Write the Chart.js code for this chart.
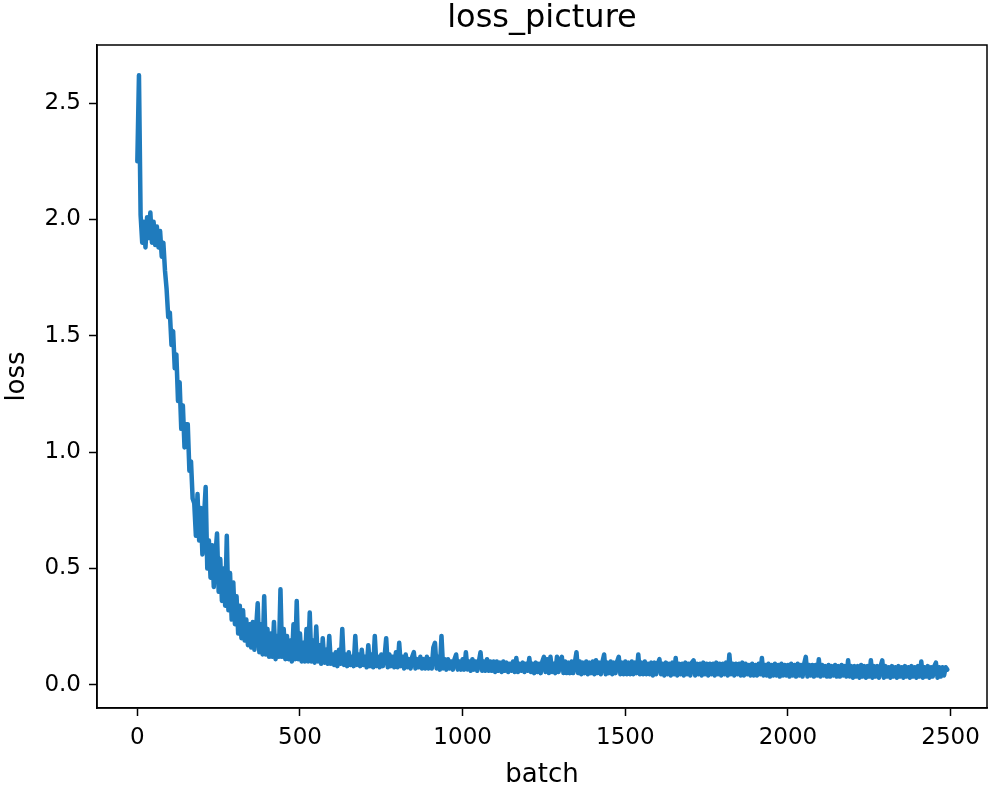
<!DOCTYPE html>
<html>
<head>
<meta charset="utf-8">
<title>loss_picture</title>
<script src="https://cdn.jsdelivr.net/npm/chart.js@4.4.1/dist/chart.umd.min.js"></script>
<style>
  html, body { margin: 0; padding: 0; background: #fff; }
  #wrap { width: 993px; height: 795px; }
</style>
</head>
<body>
<div id="wrap"><canvas id="lossChart" width="993" height="795"></canvas></div>
<script>
// loss per batch, every 5 batches (batch 0 .. 2490)
var batchStep = 5;
var loss = [
  // 0 - 595
  2.25, 2.62, 2.02, 1.90, 1.99, 1.88, 2.01, 1.92, 2.03, 1.90,
  1.99, 1.89, 1.97, 1.88, 1.95, 1.84, 1.90, 1.78, 1.70, 1.58,
  1.60, 1.46, 1.52, 1.36, 1.42, 1.22, 1.30, 1.10, 1.20, 1.02,
  1.12, 1.12, 0.92, 0.96, 0.80, 0.78, 0.64, 0.82, 0.62, 0.76,
  0.56, 0.72, 0.85, 0.50, 0.62, 0.46, 0.60, 0.42, 0.56, 0.65,
  0.40, 0.54, 0.36, 0.50, 0.34, 0.64, 0.32, 0.48, 0.28, 0.44,
  0.26, 0.38, 0.22, 0.34, 0.20, 0.32, 0.19, 0.28, 0.17, 0.26,
  0.16, 0.27, 0.15, 0.24, 0.35, 0.14, 0.26, 0.13, 0.38, 0.13,
  0.24, 0.12, 0.22, 0.12, 0.27, 0.11, 0.21, 0.12, 0.41, 0.12,
  0.24, 0.11, 0.21, 0.11, 0.19, 0.10, 0.26, 0.11, 0.36, 0.11,
  0.22, 0.10, 0.18, 0.10, 0.24, 0.10, 0.31, 0.10, 0.19, 0.095,
  0.25, 0.10, 0.17, 0.09, 0.20, 0.095, 0.15, 0.09, 0.21, 0.09,
  // 600 - 695
  0.13, 0.085, 0.14, 0.08, 0.15, 0.09, 0.24, 0.085, 0.13, 0.08,
  0.14, 0.085, 0.12, 0.08, 0.21, 0.085, 0.13, 0.08, 0.15, 0.085,
  // 700 - 795
  0.12, 0.075, 0.17, 0.08, 0.13, 0.075, 0.21, 0.08, 0.12, 0.075,
  0.13, 0.08, 0.12, 0.20, 0.075, 0.13, 0.08, 0.12, 0.075, 0.14,
  // 800 - 895
  0.075, 0.18, 0.08, 0.12, 0.07, 0.13, 0.075, 0.11, 0.07, 0.12,
  0.14, 0.07, 0.11, 0.075, 0.12, 0.07, 0.11, 0.07, 0.12, 0.07,
  // 900 - 995
  0.11, 0.07, 0.16, 0.18, 0.07, 0.12, 0.065, 0.21, 0.07, 0.11,
  0.065, 0.11, 0.07, 0.10, 0.065, 0.11, 0.13, 0.065, 0.10, 0.065,
  // 1000 - 1095
  0.11, 0.065, 0.14, 0.065, 0.10, 0.06, 0.11, 0.065, 0.10, 0.06,
  0.10, 0.14, 0.06, 0.10, 0.06, 0.11, 0.06, 0.10, 0.06, 0.10,
  // 1100 - 1195
  0.055, 0.10, 0.06, 0.095, 0.055, 0.10, 0.06, 0.095, 0.055, 0.09,
  0.06, 0.10, 0.055, 0.115, 0.055, 0.09, 0.06, 0.095, 0.055, 0.09,
  // 1200 - 1295
  0.06, 0.115, 0.055, 0.09, 0.05, 0.095, 0.055, 0.09, 0.05, 0.10,
  0.12, 0.055, 0.11, 0.05, 0.12, 0.055, 0.09, 0.05, 0.12, 0.055,
  // 1300 - 1395
  0.10, 0.12, 0.05, 0.10, 0.05, 0.095, 0.05, 0.10, 0.05, 0.095,
  0.14, 0.05, 0.10, 0.045, 0.095, 0.05, 0.10, 0.045, 0.095, 0.05,
  // 1400 - 1495
  0.10, 0.045, 0.105, 0.05, 0.095, 0.045, 0.10, 0.13, 0.045, 0.095,
  0.05, 0.10, 0.045, 0.095, 0.05, 0.10, 0.12, 0.045, 0.095, 0.045,
  // 1500 - 1595
  0.10, 0.045, 0.095, 0.045, 0.10, 0.045, 0.095, 0.05, 0.13, 0.045,
  0.095, 0.045, 0.10, 0.045, 0.09, 0.045, 0.095, 0.04, 0.095, 0.045,
  // 1600 - 1695
  0.09, 0.11, 0.045, 0.09, 0.04, 0.095, 0.045, 0.09, 0.04, 0.095,
  0.045, 0.115, 0.04, 0.09, 0.045, 0.09, 0.04, 0.095, 0.045, 0.09,
  // 1700 - 1795
  0.04, 0.095, 0.105, 0.04, 0.09, 0.045, 0.09, 0.04, 0.095, 0.045,
  0.09, 0.04, 0.09, 0.045, 0.09, 0.04, 0.095, 0.045, 0.09, 0.04,
  // 1800 - 1895
  0.09, 0.045, 0.095, 0.04, 0.13, 0.045, 0.09, 0.04, 0.09, 0.045,
  0.09, 0.04, 0.095, 0.04, 0.09, 0.045, 0.085, 0.04, 0.09, 0.04,
  // 1900 - 1995
  0.085, 0.04, 0.09, 0.045, 0.115, 0.04, 0.085, 0.04, 0.09, 0.035,
  0.085, 0.04, 0.09, 0.04, 0.085, 0.035, 0.09, 0.04, 0.085, 0.04,
  // 2000 - 2095
  0.085, 0.035, 0.09, 0.04, 0.085, 0.035, 0.09, 0.04, 0.085, 0.035,
  0.09, 0.12, 0.035, 0.085, 0.04, 0.085, 0.035, 0.085, 0.04, 0.11,
  // 2100 - 2195
  0.035, 0.085, 0.04, 0.08, 0.035, 0.085, 0.035, 0.08, 0.04, 0.085,
  0.035, 0.08, 0.035, 0.085, 0.04, 0.08, 0.035, 0.105, 0.035, 0.08,
  // 2200 - 2295
  0.03, 0.08, 0.035, 0.08, 0.03, 0.085, 0.035, 0.08, 0.03, 0.08,
  0.035, 0.105, 0.03, 0.08, 0.035, 0.08, 0.03, 0.08, 0.105, 0.03,
  // 2300 - 2395
  0.08, 0.035, 0.075, 0.03, 0.08, 0.035, 0.075, 0.03, 0.08, 0.035,
  0.075, 0.03, 0.08, 0.035, 0.075, 0.03, 0.08, 0.035, 0.075, 0.03,
  // 2400 - 2490
  0.08, 0.035, 0.10, 0.03, 0.075, 0.035, 0.08, 0.03, 0.075, 0.035,
  0.08, 0.095, 0.03, 0.075, 0.035, 0.075, 0.04, 0.075, 0.065
];
var xTicks = [0, 500, 1000, 1500, 2000, 2500];
var yTicks = [0.0, 0.5, 1.0, 1.5, 2.0, 2.5];

var points = loss.map(function (v, i) { return { x: i * batchStep, y: v }; });

// matplotlib-style box around the axes plus the title centred on the plot area
var frame = {
  id: 'frame',
  afterDraw: function (chart) {
    var a = chart.chartArea, c = chart.ctx;
    c.save();
    c.strokeStyle = '#000';
    c.lineWidth = 1.5;
    c.strokeRect(a.left, a.top, a.right - a.left, a.bottom - a.top);
    c.fillStyle = '#000';
    c.font = '32px "DejaVu Sans"';
    c.textAlign = 'center';
    c.textBaseline = 'middle';
    c.fillText('loss_picture', (a.left + a.right) / 2, 19);
    c.restore();
  }
};

Chart.defaults.font.family = 'DejaVu Sans';
Chart.defaults.color = '#000';

var ctx = document.getElementById('lossChart');
new Chart(ctx, {
  type: 'line',
  data: {
    datasets: [{
      data: points,
      borderColor: '#1f7bbd',
      borderWidth: 4.5,
      borderJoinStyle: 'round',
      borderCapStyle: 'round',
      pointRadius: 0,
      tension: 0,
      fill: false
    }]
  },
  options: {
    responsive: false,
    animation: false,
    layout: { padding: { left: 0, right: 6, top: 45, bottom: 0 } },
    plugins: {
      legend: { display: false },
      tooltip: { enabled: false },
      title: { display: false }
    },
    scales: {
      x: {
        type: 'linear',
        min: -124,
        max: 2612,
        afterBuildTicks: function (s) { s.ticks = xTicks.map(function (v) { return { value: v }; }); },
        afterFit: function (s) { s.height = 87; },
        ticks: { font: { size: 23 }, padding: 8, maxRotation: 0, callback: function (v) { return String(v); } },
        grid: { drawOnChartArea: false, tickLength: 8, color: '#000', tickWidth: 1.5 },
        border: { display: true, color: '#000', width: 1.5 },
        title: { display: true, text: 'batch', font: { size: 26 }, padding: { top: 0, bottom: 4 } }
      },
      y: {
        min: -0.1,
        max: 2.75,
        afterBuildTicks: function (s) { s.ticks = yTicks.map(function (v) { return { value: v }; }); },
        afterFit: function (s) { s.width = 97; },
        ticks: { font: { size: 23 }, padding: 8, callback: function (v) { return v.toFixed(1); } },
        grid: { drawOnChartArea: false, tickLength: 8, color: '#000', tickWidth: 1.5 },
        border: { display: true, color: '#000', width: 1.5 },
        title: { display: true, text: 'loss', font: { size: 26 }, padding: { top: 2, bottom: 0 } }
      }
    }
  },
  plugins: [frame]
});
</script>
</body>
</html>
